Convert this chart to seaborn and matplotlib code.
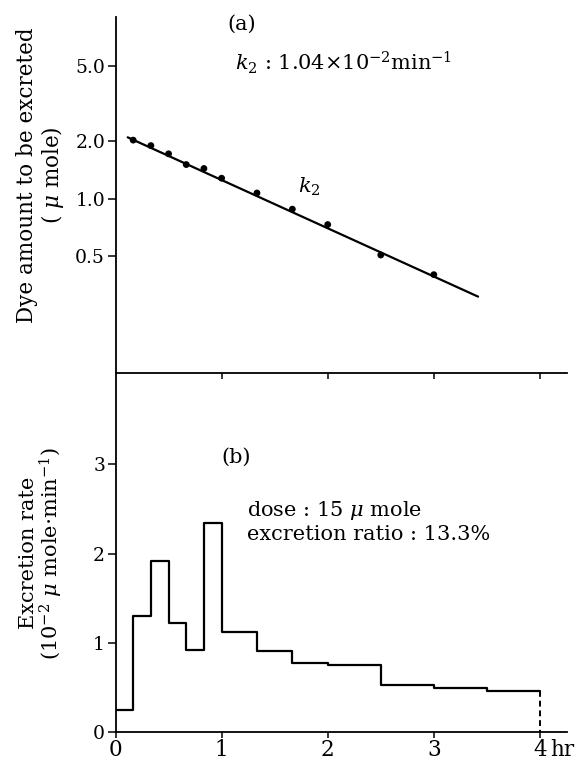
import numpy as np
import matplotlib
matplotlib.use("Agg")
import matplotlib.pyplot as plt
import seaborn as sns

# --- data ---
# (a) dye amount still to be excreted (log scale), time in minutes
t_amount_min = [10, 20, 30, 40, 50, 60, 80, 100, 120, 150, 180]
amount_umole = [2.03, 1.90, 1.72, 1.51, 1.44, 1.28, 1.07, 0.88, 0.73, 0.505, 0.398]
# fitted k2 line, two end points (hours, umole)
fit_t_hr = [0.115, 3.417]
fit_amount = [2.10, 0.305]

# (b) excretion rate per collection interval (10^-2 umole/min)
edges_min = [0, 10, 20, 30, 40, 50, 60, 80, 100, 120, 150, 180, 210, 240]
rate = [0.24, 1.30, 1.92, 1.22, 0.92, 2.34, 1.12, 0.91, 0.77, 0.745, 0.52, 0.485, 0.455]

x_ticks = [0, 1, 2, 3, 4]
x_ticklabels = ["0", "1", "2", "3", "4"]
top_ticks = [0.5, 1.0, 2.0, 5.0]
top_ticklabels = ["0.5", "1.0", "2.0", "5.0"]
bot_ticks = [0, 1, 2, 3]
bot_ticklabels = ["0", "1", "2", "3"]

# --- style ---
sns.set_style("ticks")
plt.rcParams["font.family"] = ["DejaVu Serif"]
plt.rcParams["mathtext.fontset"] = "dejavuserif"
plt.rcParams["axes.linewidth"] = 1.3
plt.rcParams["xtick.major.width"] = 1.1
plt.rcParams["ytick.major.width"] = 1.1
for key in ["text.color", "axes.labelcolor", "axes.edgecolor",
            "xtick.color", "ytick.color"]:
    plt.rcParams[key] = "black"

W, H = 580, 765
fig = plt.figure(figsize=(W / 100, H / 100), dpi=100)

left = 115.5 / W
width = (567 - 115.5) / W
ax1 = fig.add_axes([left, 1 - 372.7 / H, width, (372.7 - 16.7) / H])
ax2 = fig.add_axes([left, 1 - 731.7 / H, width, (731.7 - 372.7) / H])

t_amount_hr = np.array(t_amount_min) / 60.0
edges_hr = np.array(edges_min) / 60.0
step_y = rate + [rate[-1]]

# (a)
sns.lineplot(x=fit_t_hr, y=fit_amount, ax=ax1, color="black", linewidth=1.6,
             estimator=None, sort=False)
sns.scatterplot(x=t_amount_hr, y=amount_umole, ax=ax1, color="black", s=24,
                edgecolor="none", zorder=3)
ax1.set_yscale("log")
ax1.set_xlim(0, 4.255)
ax1.set_ylim(0.1214, 9.05)
ax1.set_yticks(top_ticks)
ax1.set_yticklabels(top_ticklabels)
ax1.minorticks_off()
ax1.set_xticks(x_ticks[1:])
ax1.set_xticklabels([])
ax1.set_xlabel("")
ax1.set_ylabel("")
sns.despine(ax=ax1)

# (b)
sns.lineplot(x=edges_hr, y=step_y, ax=ax2, color="black", linewidth=1.6,
             drawstyle="steps-post", estimator=None, sort=False)
sns.lineplot(x=[edges_hr[-1], edges_hr[-1]], y=[rate[-1], 0], ax=ax2,
             color="black", linewidth=1.4, linestyle=(0, (3, 2)),
             estimator=None, sort=False)
ax2.set_xlim(0, 4.255)
ax2.set_ylim(0, 4.03)
ax2.set_xticks(x_ticks)
ax2.set_xticklabels(x_ticklabels)
ax2.set_yticks(bot_ticks)
ax2.set_yticklabels(bot_ticklabels)
ax2.set_xlabel("")
ax2.set_ylabel("")
sns.despine(ax=ax2)

for ax in (ax1, ax2):
    ax.tick_params(axis="y", length=5.5, pad=2, labelsize=13.5)
    ax.tick_params(axis="x", length=4, pad=1, labelsize=15.5)
    ax.patch.set_alpha(0)

ax2.annotate("hr", xy=(4, 0), xycoords="data", xytext=(7.5, -5.5),
             textcoords="offset points", ha="left", va="top", fontsize=15.5)

# annotations
fig.text(242 / W, 1 - 24 / H, "(a)", ha="center", va="center", fontsize=15)
fig.text(235 / W, 1 - 63 / H, r"$k_2$ : 1.04$\times$10$^{-2}$min$^{-1}$",
         ha="left", va="center", fontsize=15)
fig.text(309 / W, 1 - 187 / H, r"$k_2$", ha="center", va="center", fontsize=15)
fig.text(236 / W, 1 - 457 / H, "(b)", ha="center", va="center", fontsize=15)
fig.text(247 / W, 1 - 511 / H, r"dose : 15 $\mu$ mole", ha="left", va="center",
         fontsize=15)
fig.text(247 / W, 1 - 535 / H, "excretion ratio : 13.3%", ha="left",
         va="center", fontsize=15)

# y labels (two lines each)
fig.text(41 / W, 1 - 175 / H, "Dye amount to be excreted\n" + r"( $\mu$ mole)",
         rotation=90, ha="center", va="center", multialignment="center",
         linespacing=1.0, fontsize=15.5)
fig.text(42 / W, 1 - 553 / H,
         "Excretion rate\n" + r"(10$^{-2}$ $\mu$ mole$\cdot$min$^{-1}$)",
         rotation=90, ha="center", va="center", multialignment="center",
         linespacing=0.95, fontsize=15)

fig.savefig("out.png", dpi=100)
